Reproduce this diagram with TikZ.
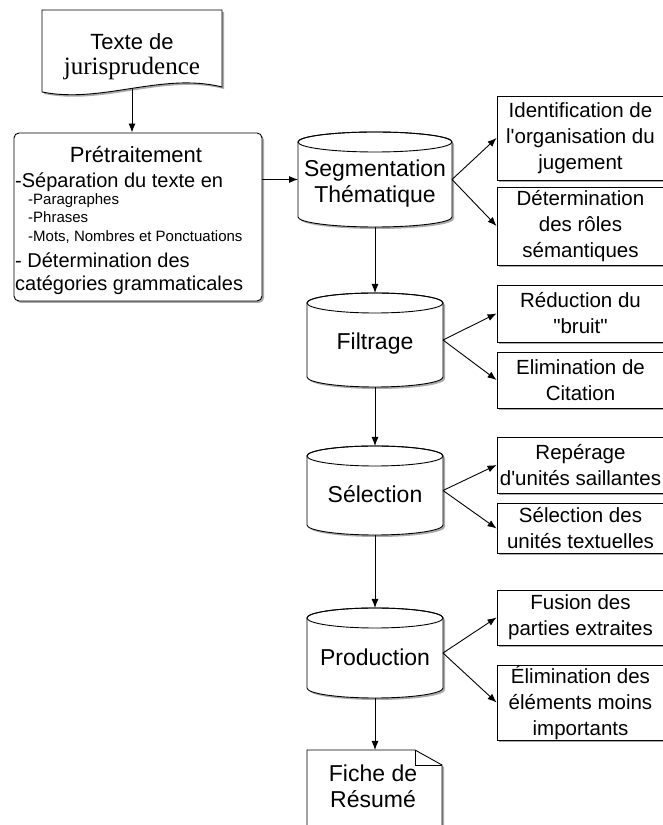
\documentclass[tikz,border=0pt]{standalone}
\usepackage{fontspec}
\setmainfont{Liberation Sans}[Ligatures=TeXOff]
\newfontfamily\serifdoc{Liberation Serif}[Ligatures=TeXOff]
\usetikzlibrary{arrows.meta,shadows,calc}
\tikzset{
  shad/.style={drop shadow={shadow xshift=2pt,shadow yshift=-2pt,fill=black!60,opacity=0.55}},
  arr/.style={line width=0.9pt,-{Latex[length=9pt,width=7pt]}},
  sidebox/.style={draw,line width=0.9pt,fill=white,shad,minimum width=177pt,inner sep=0pt},
  sidetext/.style={align=center,inner sep=0pt,font=\fontsize{20.5}{26}\selectfont},
  cyltext/.style={align=center,font=\fontsize{23}{26.5}\selectfont},
  anchorbox/.style={inner sep=0pt,outer sep=0pt,draw=none},
  bigline/.style={anchor=base west,inner sep=0pt,font=\fontsize{20}{24}\selectfont},
  smallline/.style={anchor=base west,inner sep=0pt,font=\fontsize{15}{18}\selectfont},
}
% cylinder: name, cx, topY, bottomY, half width, text
\newcommand\drum[6]{%
  \path[draw,line width=0.9pt,fill=white,shad] ({#2-#5},{#3-10}) -- ({#2-#5},{#4+10})
    arc[start angle=180,end angle=360,x radius=#5pt,y radius=10pt] -- ({#2+#5},{#3-10})
    arc[start angle=0,end angle=180,x radius=#5pt,y radius=10pt] -- cycle;
  \draw[line width=0.9pt] (#2,{#3-10}) ellipse[x radius=#5pt,y radius=10pt];
  \node[anchorbox,minimum width={2*#5pt},minimum height={(#3-#4)*1pt}] (#1) at (#2,{(#3+#4)/2}) {};
  \node[cyltext] at ([yshift=-4pt]#1.center) {#6};
}
% side box: name, centre Y, height, text
\newcommand\sidebx[4]{%
  \node[sidebox,minimum height=#3pt] (#1) at (585.5,#2) {};
  \node[sidetext] at (580.5,#2) {#4};
}
\begin{document}
\begin{tikzpicture}[x=1pt,y=1pt]
\useasboundingbox (0,0) rectangle (663,825);

% source document
\path[draw,line width=0.9pt,fill=white,shad] (42,815) -- (222,815) -- (222,738)
  .. controls (162,753) and (102,721) .. (42,733) -- cycle;
\node[anchorbox,minimum width=180pt,minimum height=78.4pt] (doc) at (132,775.8) {};
\node[anchor=base,inner sep=0pt,font=\fontsize{22}{24}\selectfont] at (132,775) {Texte de};
\node[anchor=base,inner sep=0pt,font=\serifdoc\fontsize{25}{28}\selectfont] at (132,750) {jurisprudence};

% preprocessing box
\node[draw,line width=0.9pt,rounded corners=5pt,fill=white,shad,inner sep=0pt,
      minimum width=248pt,minimum height=168pt] (pre) at (138,608) {};
\node[anchor=base,inner sep=0pt,font=\fontsize{22}{26}\selectfont] at (136,662) {Prétraitement};
\node[bigline] at (15,637) {-Séparation du texte en};
\node[smallline] at (28,620) {-Paragraphes};
\node[smallline] at (28,602) {-Phrases};
\node[smallline] at (28,583) {-Mots, Nombres et Ponctuations};
\node[bigline] at (15,557) {- Détermination des};
\node[bigline] at (15,534) {catégories grammaticales};

% cylinders
\drum{seg}{375}{693}{598}{77}{Segmentation\\Thématique}
\drum{fil}{375}{532}{438}{68}{Filtrage}
\drum{sel}{375}{379}{290}{68}{Sélection}
\drum{prod}{375}{217}{127}{68}{Production}

% final document
\path[draw,line width=0.9pt,fill=white,shad] (307,75) -- (415,75) -- (442,60) -- (442,-10) -- (307,-10) -- cycle;
\draw[line width=0.9pt] (415,75) -- (415,60) -- (442,60);
\node[anchorbox,minimum width=135pt,minimum height=85pt] (fiche) at (374.5,32.5) {};
\node[anchor=base,inner sep=0pt,font=\fontsize{23}{26}\selectfont] at (373,43) {Fiche de};
\node[anchor=base,inner sep=0pt,font=\fontsize{23}{26}\selectfont] at (373,17) {Résumé};

% side boxes
\sidebx{s1}{687}{84}{Identification de\\l'organisation du\\jugement}
\sidebx{s2}{599}{78}{Détermination\\des rôles\\sémantiques}
\sidebx{f1}{511.5}{57}{Réduction du\\"bruit"}
\sidebx{f2}{445}{56}{Elimination de\\Citation}
\sidebx{l1}{360}{56}{Repérage\\d'unités saillantes}
\sidebx{l2}{296.5}{50}{Sélection des\\unités textuelles}
\sidebx{p1}{207.5}{55}{Fusion des\\parties extraites}
\sidebx{p2}{122.5}{75}{Élimination des\\éléments moins\\importants}

% connectors
\draw[arr] (doc.south) -- (doc.south |- pre.north);
\draw[arr] (seg.west -| pre.east) -- (seg.west);
\draw[arr] (seg.south) -- (fil.north);
\draw[arr] (fil.south) -- (sel.north);
\draw[arr] (sel.south) -- (prod.north);
\draw[arr] (prod.south) -- (prod.south |- fiche.north);
\draw[arr] (seg.east) -- (s1.west);
\draw[arr] (seg.east) -- (s2.west);
\draw[arr] (fil.east) -- (f1.west);
\draw[arr] (fil.east) -- (f2.west);
\draw[arr] (sel.east) -- (l1.west);
\draw[arr] (sel.east) -- (l2.west);
\draw[arr] (prod.east) -- (p1.west);
\draw[arr] (prod.east) -- (p2.west);
\end{tikzpicture}
\end{document}
